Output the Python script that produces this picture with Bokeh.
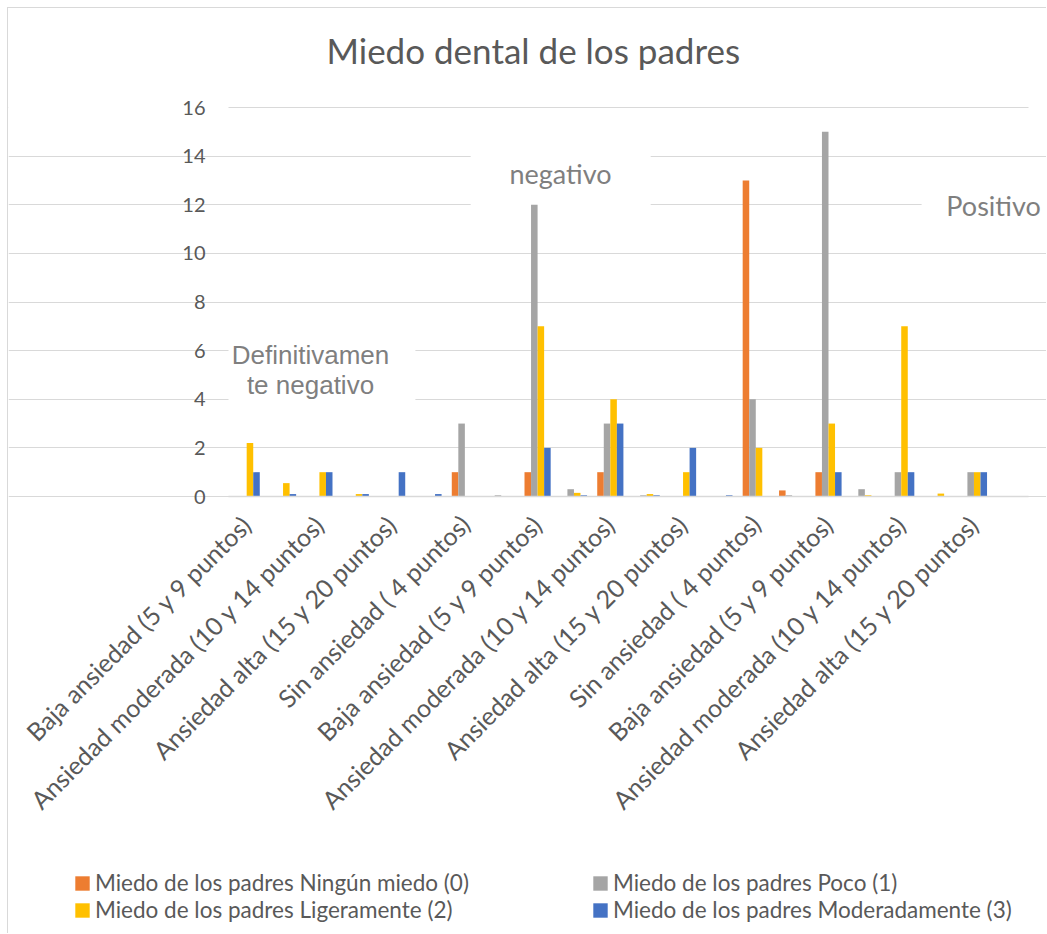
import math

from bokeh.embed import file_html
from bokeh.models import (BoxAnnotation, ColumnDataSource, FixedTicker, Label,
                          Legend, LegendItem, Range1d)
from bokeh.plotting import figure
from bokeh.resources import INLINE
from bokeh.transform import dodge

# ---- data -----------------------------------------------------------------
chart_title = "Miedo dental de los padres"

# 22 category slots; only every other slot carries a visible label
slots = list(range(22))
slot_labels = [
    "Baja ansiedad (5 y 9 puntos)",
    "Ansiedad moderada (10 y 14 puntos)",
    "Ansiedad alta (15 y 20 puntos)",
    "Sin ansiedad ( 4 puntos)",
    "Baja ansiedad (5 y 9 puntos)",
    "Ansiedad moderada (10 y 14 puntos)",
    "Ansiedad alta (15 y 20 puntos)",
    "Sin ansiedad ( 4 puntos)",
    "Baja ansiedad (5 y 9 puntos)",
    "Ansiedad moderada (10 y 14 puntos)",
    "Ansiedad alta (15 y 20 puntos)",
]
labelled_slots = [0, 2, 4, 6, 8, 10, 12, 14, 16, 18, 20]

ningun_miedo = [0, 0, 0, 0, 0, 0, 1, 0, 1, 0, 1, 0, 0, 0, 13, 0.25, 1, 0, 0, 0, 0, 0]
poco = [0, 0, 0, 0, 0, 0, 3, 0.05, 12, 0.3, 3, 0.05, 0, 0, 4, 0.05, 15, 0.3, 1, 0, 1, 0]
ligeramente = [2.2, 0.55, 1, 0.1, 0, 0, 0, 0, 7, 0.15, 4, 0.1, 1, 0, 2, 0, 3, 0.05, 7, 0.12, 1, 0]
moderadamente = [1, 0.1, 1, 0.1, 1, 0.1, 0, 0, 2, 0.05, 3, 0.05, 2, 0.05, 0, 0, 1, 0, 1, 0, 1, 0]

series_names = [
    "Miedo de los padres Ningún miedo (0)",
    "Miedo de los padres Poco (1)",
    "Miedo de los padres Ligeramente (2)",
    "Miedo de los padres Moderadamente (3)",
]
series_colors = ["#ED7D31", "#A5A5A5", "#FFC000", "#4472C4"]
y_ticks = [0, 2, 4, 6, 8, 10, 12, 14, 16]

# ---- layout constants (pixels) ---------------------------------------------
W, H = 1039, 926            # canvas size
PLOT_L, PLOT_R = 220, 1020  # where the category slots start / end
TOP_16, BASE_0 = 99, 488    # canvas rows of the value 16 and of the baseline
FRAME_T = 80                # frame starts below the title band

x_min, x_max = -0.5, 21.5
y_min, y_max = 0, 16
px_x = (PLOT_R - PLOT_L) / (x_max - x_min)
px_y = (BASE_0 - TOP_16) / (y_max - y_min)
x_left = x_min - PLOT_L / px_x
x_right = x_max + (W - PLOT_R) / px_x
y_top = y_max + (TOP_16 - FRAME_T) / px_y
y_bottom = y_top - (H - FRAME_T) / px_y

# ---- styling --------------------------------------------------------------
TEXT = "#595959"
NOTE = "#7F7F7F"
GRID = "#D9D9D9"
SANS = "Lato"

source = ColumnDataSource(dict(
    slot=slots,
    s0=ningun_miedo,
    s1=poco,
    s2=ligeramente,
    s3=moderadamente,
))

p = figure(
    width=W, height=H,
    x_range=Range1d(x_left, x_right),
    y_range=Range1d(y_bottom, y_top),
    output_backend="svg", toolbar_location=None,
    min_border_left=0, min_border_right=0,
    min_border_top=FRAME_T, min_border_bottom=0,
    background_fill_color="white", border_fill_color="white",
)
p.styles = {
    "margin-left": "7px", "margin-top": "7px",
    "border-left": "1px solid #D9D9D9", "border-top": "1px solid #D9D9D9",
}
p.outline_line_color = None

# title
p.title.text = chart_title
p.title.text_font = SANS
p.title.text_font_size = "35px"
p.title.text_font_style = "normal"
p.title.text_color = TEXT
p.title.align = "left"
p.title.offset = 318
p.title.standoff = 36

# grid, kept inside the category span
p.xgrid.grid_line_color = None
p.ygrid.grid_line_color = GRID
p.ygrid.grid_line_width = 1
p.ygrid.ticker = FixedTicker(ticks=y_ticks)
p.ygrid.bounds = (x_min, x_max)

# y axis pinned to the left edge of the category span
p.yaxis.fixed_location = x_min
p.yaxis.ticker = FixedTicker(ticks=y_ticks)
p.yaxis.axis_line_color = None
p.yaxis.major_tick_line_color = None
p.yaxis.minor_tick_line_color = None
p.yaxis.major_label_standoff = 17
p.yaxis.major_label_text_font = SANS
p.yaxis.major_label_text_font_size = "20px"
p.yaxis.major_label_text_color = TEXT

# x axis pinned at zero, slanted labels on every other slot
p.xaxis.fixed_location = 0
p.xaxis.bounds = (x_min, x_max)
p.xaxis.ticker = FixedTicker(ticks=labelled_slots)
p.xaxis.major_label_overrides = {s: lab for s, lab in zip(labelled_slots, slot_labels)}
p.xaxis.major_label_orientation = math.pi / 4
p.xaxis.axis_line_color = GRID
p.xaxis.axis_line_width = 1.5
p.xaxis.major_tick_line_color = None
p.xaxis.minor_tick_line_color = None
p.xaxis.major_label_standoff = 17
p.xaxis.major_label_text_font = SANS
p.xaxis.major_label_text_font_size = "25px"
p.xaxis.major_label_text_color = TEXT

# white boxes over the grid: the three note backgrounds, plus the margins
# left and right of the category span at the top grid line
for left, right, bottom, top in [(-0.5, 4.64, 3.75, 7.4),
                                 (6.16, 11.11, 11.93, 14.8),
                                 (18.56, x_right, 10.9, 13.3),
                                 (x_left, x_min, 15.5, y_top),
                                 (x_max, x_right, 15.5, y_top)]:
    p.add_layout(BoxAnnotation(left=left, right=right, bottom=bottom, top=top,
                               fill_color="white", fill_alpha=1.0,
                               line_color=None, level="underlay"))

# clustered columns
bar_w = 0.18
offsets = [-1.5 * bar_w, -0.5 * bar_w, 0.5 * bar_w, 1.5 * bar_w]
bars = []
for i, (col, color) in enumerate(zip(["s0", "s1", "s2", "s3"], series_colors)):
    r = p.vbar(x=dodge("slot", offsets[i], range=p.x_range), top=col, width=bar_w,
               bottom=0, source=source, fill_color=color, line_color=None)
    bars.append(r)

# notes
notes = [
    ("Definitivamen", 1.755, 5.84, "Liberation Sans", "26px"),
    ("te negativo", 1.755, 4.57, "Liberation Sans", "26px"),
    ("negativo", 8.63, 13.29, SANS, "27px"),
    ("Positivo", 20.54, 11.97, SANS, "27px"),
]
for txt, x, y, font, size in notes:
    p.add_layout(Label(x=x, y=y, text=txt, text_font=font, text_font_size=size,
                       text_color=NOTE, text_align="center", text_baseline="middle"))

# legend: two columns of two entries each, along the bottom
def make_legend(idx, loc):
    return Legend(
        items=[LegendItem(label=series_names[k], renderers=[bars[k]]) for k in idx],
        location=loc, orientation="vertical",
        border_line_color=None, background_fill_alpha=0,
        padding=0, margin=0, spacing=0,
        glyph_width=18, glyph_height=18, label_standoff=4,
        label_text_font=SANS, label_text_font_size="22.5px", label_text_color=TEXT,
    )

p.add_layout(make_legend([0, 2], (65, 11)))
p.add_layout(make_legend([1, 3], (583, 11)))

open("out.html", "w").write(file_html(p, INLINE))
